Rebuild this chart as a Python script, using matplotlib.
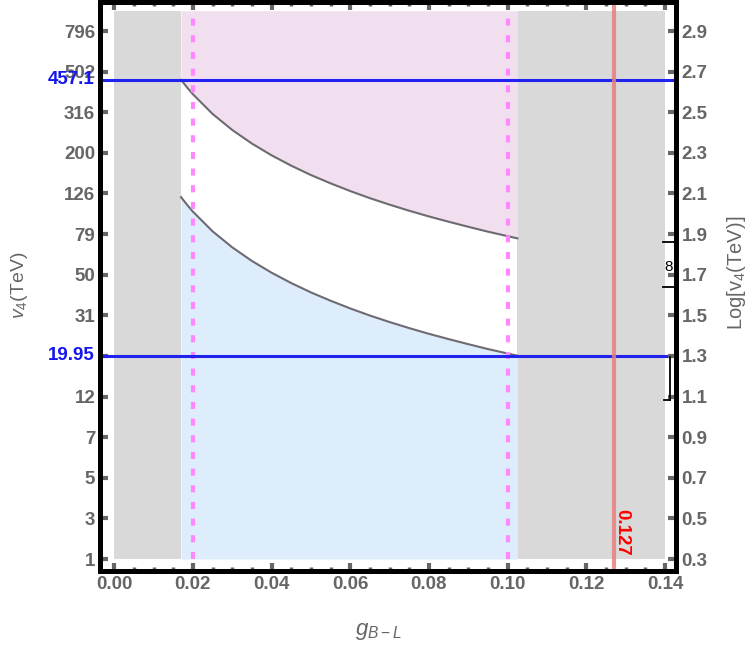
import matplotlib
matplotlib.use("Agg")
import matplotlib.pyplot as plt
from matplotlib.lines import Line2D
import numpy as np

plt.rcParams['font.family'] = ['Liberation Sans', 'DejaVu Sans']
plt.rcParams['mathtext.fontset'] = 'custom'
plt.rcParams['mathtext.it'] = 'Liberation Sans:italic'
plt.rcParams['mathtext.rm'] = 'Liberation Sans'

# data
g_curve = [0.017, 0.0185, 0.02, 0.025, 0.03, 0.035, 0.04, 0.045, 0.05, 0.055, 0.06,
           0.065, 0.07, 0.075, 0.08, 0.085, 0.09, 0.095, 0.10, 0.1025]
log_upper = [2.660, 2.623, 2.589, 2.492, 2.413, 2.346, 2.288, 2.237, 2.191, 2.150, 2.112,
             2.077, 2.045, 2.015, 1.987, 1.961, 1.936, 1.912, 1.890, 1.879]
log_lower = [2.082, 2.045, 2.011, 1.914, 1.835, 1.768, 1.710, 1.659, 1.613, 1.572, 1.534,
             1.499, 1.467, 1.437, 1.409, 1.383, 1.358, 1.334, 1.312, 1.301]
g_allowed = [0.017, 0.1025]
g_range = [0.0, 0.14]
log_range = [0.3, 3.0]
g_dashed = [0.02, 0.10]
g_red = 0.127
h_lines = [2.66, 1.30]
h_labels = ["457.1", "19.95"]
right_ticks = [0.3, 0.5, 0.7, 0.9, 1.1, 1.3, 1.5, 1.7, 1.9, 2.1, 2.3, 2.5, 2.7, 2.9]
left_labels = ["1", "3", "5", "7", "12", "", "31", "50", "79", "126", "200", "316", "502", "796"]
x_ticks = [0.00, 0.02, 0.04, 0.06, 0.08, 0.10, 0.12, 0.14]

gray_txt = "#666666"
fs = 13.5
fig = plt.figure(figsize=(7.48, 6.49), dpi=100)
ax = fig.add_axes([100/748, 1-571/649, 576/748, 569/649])
ax.set_xlim(-0.0036, 0.1428)
ax.set_ylim(0.241, 3.043)

# gray excluded regions
ax.fill_between([g_range[0], g_allowed[0]], log_range[0], log_range[1], color="#d9d9d9", lw=0)
ax.fill_between([g_allowed[1], g_range[1]], log_range[0], log_range[1], color="#d9d9d9", lw=0)
# pink region above upper curve
ax.fill_between(g_curve, log_upper, log_range[1], color="#f1dff0", lw=0)
# blue region below lower curve
ax.fill_between(g_curve, log_range[0], log_lower, color="#ddedfc", lw=0)
ax.plot(g_curve, log_upper, color="#6e6a72", lw=1.5)
ax.plot(g_curve, log_lower, color="#6e6a72", lw=1.5)

for gx in g_dashed:
    ax.plot([gx, gx], log_range, color="#ff88ff", lw=3, ls=(0, (1.7, 2.3)))

for hy in h_lines:
    ax.axhline(hy, color="#2222ee", lw=2.2)

ax.axvline(g_red, color="#e88080", lw=3, alpha=0.85)
ax.text(g_red - 0.0002, 0.315, "0.127", color="red", rotation=-90, fontsize=fs,
        fontweight="bold", ha="left", va="bottom")

for sp in ax.spines.values():
    sp.set_linewidth(3.5)
    sp.set_color("black")

ax.set_xticks(x_ticks)
ax.set_xticklabels([f"{t:.2f}" for t in x_ticks])
ax.set_xticks(np.arange(0, 0.1401, 0.005), minor=True)
ax.set_yticks(right_ticks)
ax.set_yticklabels(left_labels)
ax.tick_params(axis="both", which="major", direction="in", length=6, width=3,
               color=gray_txt, labelcolor=gray_txt, labelsize=fs, pad=3.5)
ax.tick_params(axis="x", which="minor", direction="in", length=3, width=2.5,
               color=gray_txt, top=True)
ax.tick_params(axis="x", which="major", top=True)
for lab in ax.get_xticklabels() + ax.get_yticklabels():
    lab.set_fontweight("bold")

for hy, hl in zip(h_lines, h_labels):
    ax.text(-95/748, 1 - 0, hl, color="#1515ee", fontsize=fs, fontweight="bold",
            ha="right", va="center", transform=ax.get_yaxis_transform(),
            clip_on=False)
# place blue labels at their y positions (axes-x, data-y)
for t in list(ax.texts)[-2:]:
    t.remove()
for hy, hl in zip(h_lines, h_labels):
    ax.text(-0.009, hy, hl, color="#1515ee", fontsize=fs, fontweight="bold",
            ha="right", va="center", transform=ax.get_yaxis_transform(),
            clip_on=False)

ax2 = ax.twinx()
ax2.set_ylim(ax.get_ylim())
ax2.set_yticks(right_ticks)
ax2.set_yticklabels([f"{t:.1f}" for t in right_ticks])
ax2.tick_params(axis="y", direction="in", length=6, width=3, color=gray_txt,
                labelcolor=gray_txt, labelsize=fs, pad=4)
for lab in ax2.get_yticklabels():
    lab.set_fontweight("bold")
for sp in ax2.spines.values():
    sp.set_linewidth(3.5)

# small clipped legend-like marks near the right frame
black = "black"
for (xa, xb, ya, yb) in [(663, 675, 242, 242), (663, 675, 287, 287),
                         (670, 670, 357, 400), (664, 670, 400, 400)]:
    fig.add_artist(Line2D([xa/748, xb/748], [1-ya/649, 1-yb/649], color=black, lw=1.3))
fig.text(669/748, 1-267/649, "8", color=black, fontsize=11, ha="center", va="center")

fig.text(20/748, 1-285/649, r"$v_4$(TeV)", rotation=90, color=gray_txt,
         fontsize=14, ha="center", va="center")
fig.text(737/748, 1-273/649, r"Log[v$_4$(TeV)]", rotation=90, color=gray_txt,
         fontsize=14.5, ha="center", va="center")
fig.text(378/748, 1-632/649, r"$g_{B-L}$", color=gray_txt, fontsize=16,
         ha="center", va="center")

fig.savefig("out.png", dpi=100)
